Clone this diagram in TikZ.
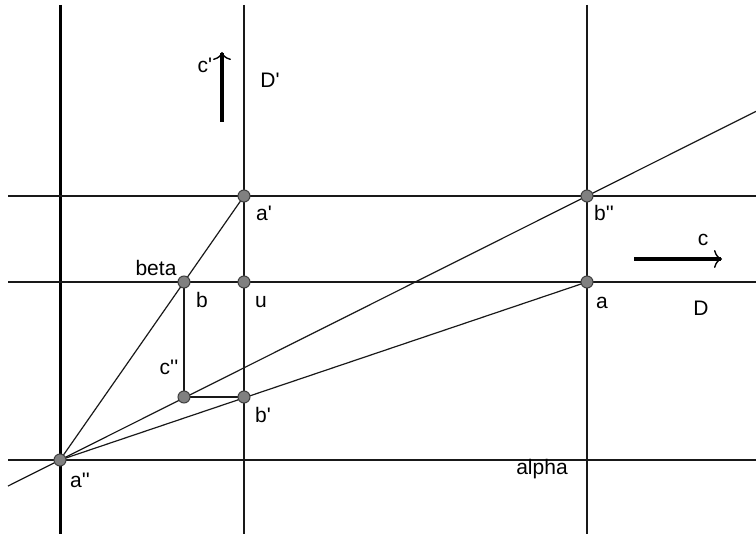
\documentclass[tikz,border=0pt]{standalone}
\usepackage{fontspec}
\setmainfont{Liberation Sans}
\usetikzlibrary{arrows.meta}
\newcommand{\pr}{\textquotesingle}
\begin{document}
\begin{tikzpicture}[x=1pt,y=-1pt,
  thin line/.style={line width=1.2pt,black!90},
  axis line/.style={line width=3pt,black},
  dot/.style={circle,fill=black!50,draw=black!75,line width=1pt,inner sep=0pt,minimum size=12pt},
  lbl/.style={font=\fontsize{21}{24}\selectfont,inner sep=0pt},
  bigarrow/.style={line width=4.3pt,-{To[length=8pt,width=18pt,line width=1.4pt]}}]
\useasboundingbox (0,0) rectangle (756,534);
% points
\coordinate (App) at (60,460);
\coordinate (Ap) at (244,196);
\coordinate (Bpp) at (587,196);
\coordinate (B) at (184,282);
\coordinate (U) at (244,282);
\coordinate (A) at (587,282);
\coordinate (Cpp) at (184,397);
\coordinate (Bp) at (244,397);
% line ends
\coordinate (v1t) at (60,5);   \coordinate (v1b) at (60,534);
\coordinate (v2t) at (244,5);  \coordinate (v2b) at (244,534);
\coordinate (v3t) at (587,5);  \coordinate (v3b) at (587,534);
\coordinate (h1l) at (8,196);  \coordinate (h1r) at (756,196);
\coordinate (h2l) at (8,282);  \coordinate (h2r) at (756,282);
\coordinate (h3l) at (8,460);  \coordinate (h3r) at (756,460);
\coordinate (dl) at (8,486.05); \coordinate (dr) at (756,111.34);
% lines
\draw[axis line] (v1t) -- (v1b);
\draw[thin line] (v2t) -- (v2b);
\draw[thin line] (v3t) -- (v3b);
\draw[thin line] (h1l) -- (h1r);
\draw[thin line] (h2l) -- (h2r);
\draw[thin line] (h3l) -- (h3r);
\draw[thin line] (dl) -- (dr);
\draw[thin line] (App) -- (Ap);
\draw[thin line] (App) -- (A);
\draw[thin line] (B) -- (Cpp) -- (Bp);
% arrows
\coordinate (c1s) at (222,122); \coordinate (c1e) at (222,52);
\coordinate (c2s) at (634,259); \coordinate (c2e) at (722,259);
\draw[bigarrow] (c1s) -- (c1e);
\draw[bigarrow] (c2s) -- (c2e);
% dots
\foreach \p/\n in {App/nApp,Ap/nAp,Bpp/nBpp,B/nB,U/nU,A/nA,Cpp/nCpp,Bp/nBp}
  \node[dot] (\n) at (\p) {};
% labels
\node[lbl] (lcp) at (205,65) {c\pr};
\node[lbl] (lDp) at (270,80) {D\pr};
\node[lbl] (lap) at (264,213) {a\pr};
\node[lbl] (lbpp) at (604,213) {b\pr\pr};
\node[lbl] (lbeta) at (156,268) {beta};
\node[lbl] (lb) at (202,300) {b};
\node[lbl] (lu) at (261,302) {u};
\node[lbl] (la) at (602,303) {a};
\node[lbl] (lD) at (701,308) {D};
\node[lbl] (lc) at (703,240) {c};
\node[lbl] (lcpp) at (169,367) {c\pr\pr};
\node[lbl] (lbp) at (263,415) {b\pr};
\node[lbl] (lapp) at (80,480) {a\pr\pr};
\node[lbl] (lalpha) at (542,469) {alpha};
\end{tikzpicture}
\end{document}
